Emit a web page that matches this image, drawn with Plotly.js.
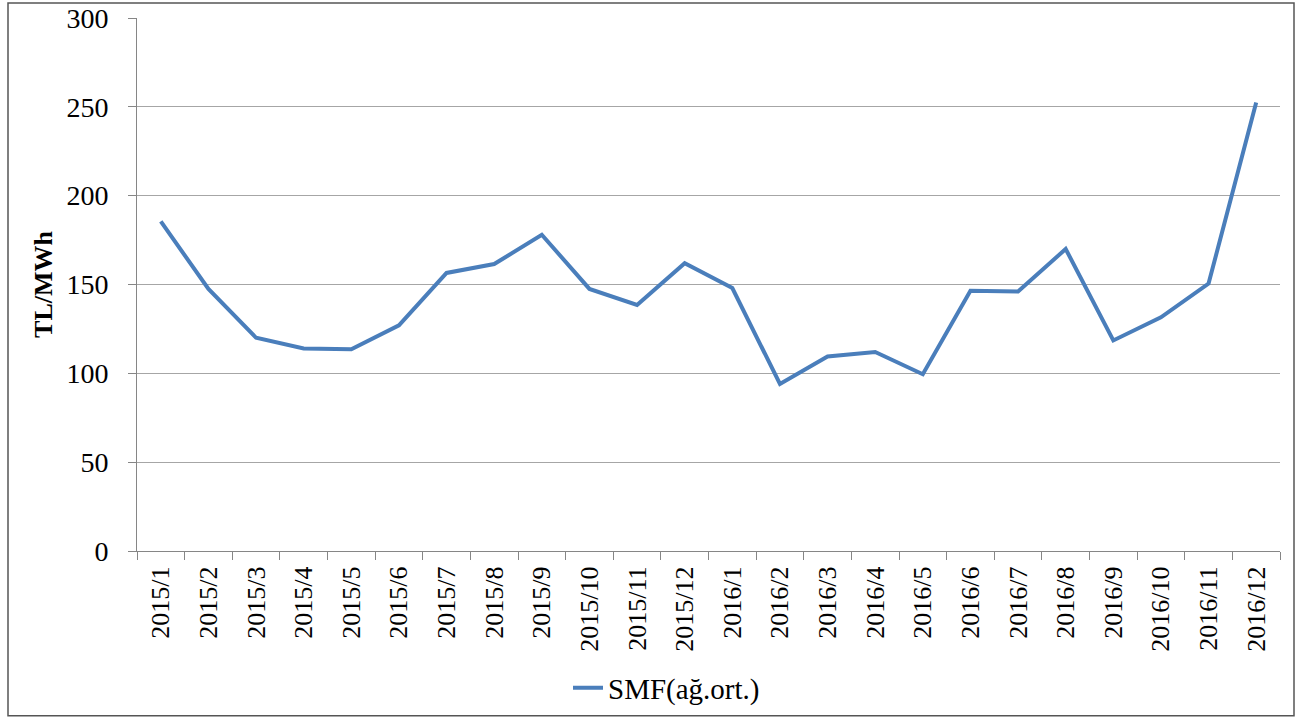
<!DOCTYPE html>
<html>
<head>
<meta charset="utf-8">
<script src="https://cdn.plot.ly/plotly-3.0.1.min.js"></script>
<style>
html,body{margin:0;padding:0;background:#fff;}
#chart{width:1298px;height:726px;}
</style>
</head>
<body>
<div id="chart"></div>
<script>
const categories = ["2015/1","2015/2","2015/3","2015/4","2015/5","2015/6","2015/7","2015/8","2015/9","2015/10","2015/11","2015/12",
  "2016/1","2016/2","2016/3","2016/4","2016/5","2016/6","2016/7","2016/8","2016/9","2016/10","2016/11","2016/12"];
const smfValues = [185.5, 147.5, 120, 114, 113.5, 127, 156.5, 161.5, 178, 147.5, 138.5, 162,
  148, 94, 109.5, 112, 99.5, 146.5, 146, 170, 118.5, 131.5, 150.5, 252.5];
const yTicks = [0, 50, 100, 150, 200, 250, 300];
const seriesName = "SMF(ağ.ort.)";

const font = "Liberation Serif, Times New Roman, serif";

const trace = {
  type: "scatter",
  mode: "lines",
  x: categories,
  y: smfValues,
  name: seriesName,
  line: {color: "#4A7EBB", width: 4}
};

const T = 18, B = 171;
const W = 1143, H = 726 - T - B;
const bottomPx = 726 - B;
const layout = {
  width: 1298, height: 726,
  margin: {l: 137, r: 18, t: T, b: B},
  paper_bgcolor: "#fff", plot_bgcolor: "#fff",
  showlegend: true,
  legend: {
    orientation: "h", x: (568 - 137) / W, xanchor: "left",
    y: (bottomPx - 693) / H, yanchor: "middle",
    font: {family: font, size: 29, color: "#000"}
  },
  xaxis: {
    type: "category",
    range: [-0.5, categories.length - 0.5],
    showgrid: false,
    showline: true, linecolor: "#868686", linewidth: 1,
    ticks: "outside", tickson: "boundaries", ticklen: 8, tickcolor: "#868686",
    tickangle: -90, ticklabelstandoff: 4,
    tickfont: {family: font, size: 26, color: "#000"},
    zeroline: false
  },
  yaxis: {
    range: [0, 300],
    tickvals: yTicks,
    showgrid: true, gridcolor: "#A6A6A6", gridwidth: 1,
    showline: true, linecolor: "#868686", linewidth: 1,
    ticks: "outside", ticklen: 8, tickcolor: "#868686",
    ticklabelstandoff: 14,
    tickfont: {family: font, size: 28, color: "#000"},
    zeroline: false,
    title: {text: "<b>TL/MWh</b>", standoff: 6, font: {family: font, size: 26, color: "#000"}}
  },
  shapes: [{
    type: "rect", xref: "paper", yref: "paper",
    x0: (8 - 137) / W, x1: (1294 - 137) / W,
    y0: (bottomPx - 721) / H, y1: (bottomPx - 3) / H,
    line: {color: "#555", width: 1.5}, fillcolor: "rgba(0,0,0,0)", layer: "below"
  }]
};

Plotly.newPlot("chart", [trace], layout, {displayModeBar: false, staticPlot: true});
</script>
</body>
</html>
